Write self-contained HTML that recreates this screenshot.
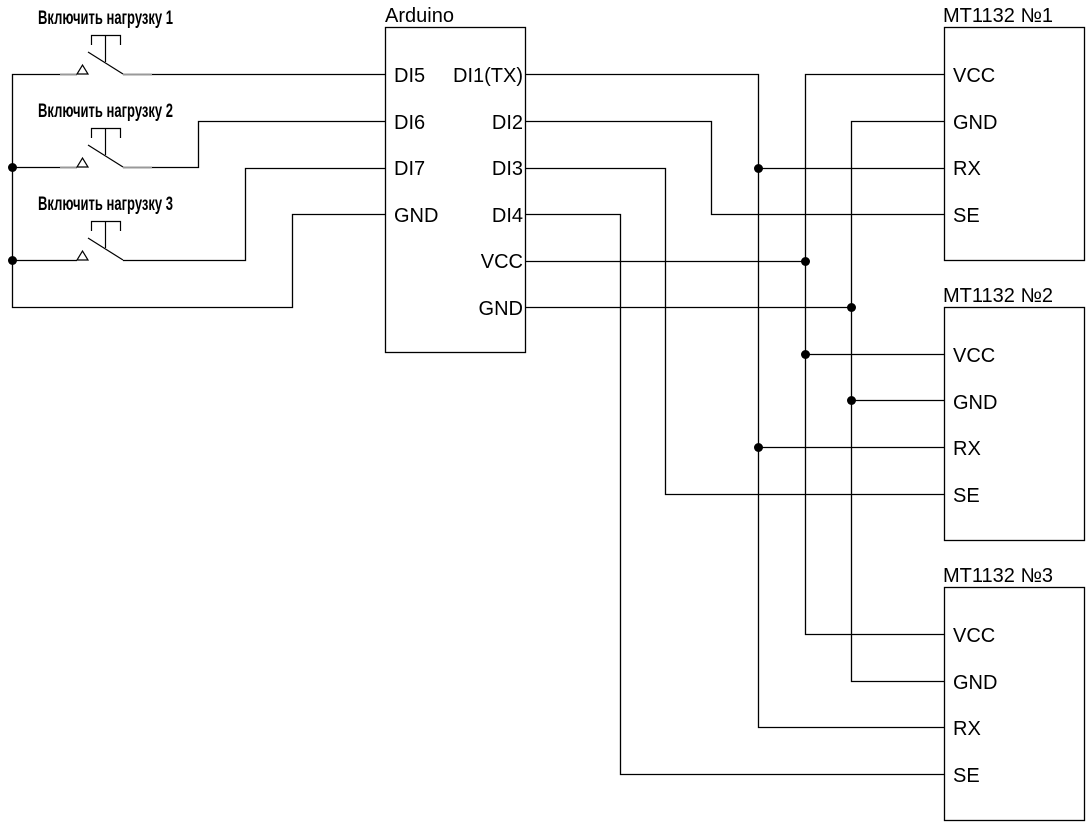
<!DOCTYPE html><html><head><meta charset="utf-8"><style>
html,body{margin:0;padding:0;background:#fff;}
svg text{font-family:"Liberation Sans",sans-serif;font-size:20px;fill:#000;}
.c{font-size:19px;}
</style></head><body>
<svg width="1091" height="825" viewBox="0 0 1091 825" xmlns="http://www.w3.org/2000/svg">
<g fill="none" stroke="#000" stroke-width="1.3">
<rect x="385.5" y="27.5" width="140" height="325"/>
<rect x="944.5" y="27.5" width="140" height="233"/>
<rect x="944.5" y="307.5" width="140" height="233"/>
<rect x="944.5" y="587.5" width="140" height="233"/>
<polyline points="60,74.5 12.5,74.5 12.5,307.5 292.5,307.5 292.5,214.5 385,214.5"/>
<polyline points="152,74.5 385,74.5"/>
<polyline points="12,167.5 60,167.5"/>
<polyline points="152,167.5 198.5,167.5 198.5,121.5 385,121.5"/>
<polyline points="12,260.5 77,260.5"/>
<polyline points="123,260.5 245.5,260.5 245.5,168.5 385,168.5"/>
<polyline points="525,74.5 758.5,74.5 758.5,727.5 944,727.5"/>
<polyline points="525,121.5 711.5,121.5 711.5,214.5 944,214.5"/>
<polyline points="525,168.5 665.5,168.5 665.5,494.5 944,494.5"/>
<polyline points="525,214.5 620.5,214.5 620.5,774.5 944,774.5"/>
<polyline points="525,261.5 805.5,261.5"/>
<polyline points="525,307.5 851.5,307.5"/>
<polyline points="944,74.5 805.5,74.5 805.5,634.5 944,634.5"/>
<polyline points="944,121.5 851.5,121.5 851.5,681.5 944,681.5"/>
<line x1="758" y1="168.5" x2="944" y2="168.5"/>
<line x1="758" y1="447.5" x2="944" y2="447.5"/>
<line x1="805" y1="354.5" x2="944" y2="354.5"/>
<line x1="851" y1="400.5" x2="944" y2="400.5"/>
</g>
<g fill="#000">
<circle cx="12.5" cy="167.5" r="4.5"/><circle cx="12.5" cy="260.5" r="4.5"/>
<circle cx="758.5" cy="168.5" r="4.5"/><circle cx="758.5" cy="447.5" r="4.5"/>
<circle cx="805.5" cy="261.5" r="4.5"/><circle cx="805.5" cy="354.5" r="4.5"/>
<circle cx="851.5" cy="307.5" r="4.5"/><circle cx="851.5" cy="400.5" r="4.5"/>
</g>
<g fill="none" stroke-width="1.2">
<line x1="60" y1="74.5" x2="77" y2="74.5" stroke="#999" stroke-width="2"/>
<line x1="123" y1="74.5" x2="152" y2="74.5" stroke="#999" stroke-width="2"/>
<g stroke="#000">
<polygon points="77,74 88,74 82.5,65"/>
<line x1="88" y1="52" x2="123" y2="74"/>
<line x1="105.5" y1="35" x2="105.5" y2="62"/>
<polyline points="91.5,45 91.5,35.5 120.5,35.5 120.5,45"/>
</g></g>
<g fill="none" stroke-width="1.2" transform="translate(0,93)">
<line x1="60" y1="74.5" x2="77" y2="74.5" stroke="#999" stroke-width="2"/>
<line x1="123" y1="74.5" x2="152" y2="74.5" stroke="#999" stroke-width="2"/>
<g stroke="#000">
<polygon points="77,74 88,74 82.5,65"/>
<line x1="88" y1="52" x2="123" y2="74"/>
<line x1="105.5" y1="35" x2="105.5" y2="62"/>
<polyline points="91.5,45 91.5,35.5 120.5,35.5 120.5,45"/>
</g></g>
<g fill="none" stroke-width="1.2" transform="translate(0,186)">
<g stroke="#000">
<polygon points="77,74 88,74 82.5,65"/>
<line x1="88" y1="52" x2="123" y2="74"/>
<line x1="105.5" y1="35" x2="105.5" y2="62"/>
<polyline points="91.5,45 91.5,35.5 120.5,35.5 120.5,45"/>
</g></g>
<text class="c" x="38" y="24" textLength="135" lengthAdjust="spacingAndGlyphs" font-weight="bold">Включить нагрузку 1</text>
<text class="c" x="38" y="117" textLength="135" lengthAdjust="spacingAndGlyphs" font-weight="bold">Включить нагрузку 2</text>
<text class="c" x="38" y="210" textLength="135" lengthAdjust="spacingAndGlyphs" font-weight="bold">Включить нагрузку 3</text>
<text x="385" y="22">Arduino</text>
<text x="394" y="82">DI5</text><text x="394" y="129">DI6</text><text x="394" y="175">DI7</text><text x="394" y="222">GND</text>
<g text-anchor="end">
<text x="523" y="82">DI1(TX)</text><text x="523" y="129">DI2</text><text x="523" y="175">DI3</text><text x="523" y="222">DI4</text><text x="523" y="268">VCC</text><text x="523" y="315">GND</text>
</g>
<text x="943" y="22">MT1132 №1</text>
<text x="943" y="302">MT1132 №2</text>
<text x="943" y="582">MT1132 №3</text>
<text x="953" y="82">VCC</text><text x="953" y="129">GND</text><text x="953" y="175">RX</text><text x="953" y="222">SE</text>
<text x="953" y="362">VCC</text><text x="953" y="409">GND</text><text x="953" y="455">RX</text><text x="953" y="502">SE</text>
<text x="953" y="642">VCC</text><text x="953" y="689">GND</text><text x="953" y="735">RX</text><text x="953" y="782">SE</text>
</svg>
</body></html>
